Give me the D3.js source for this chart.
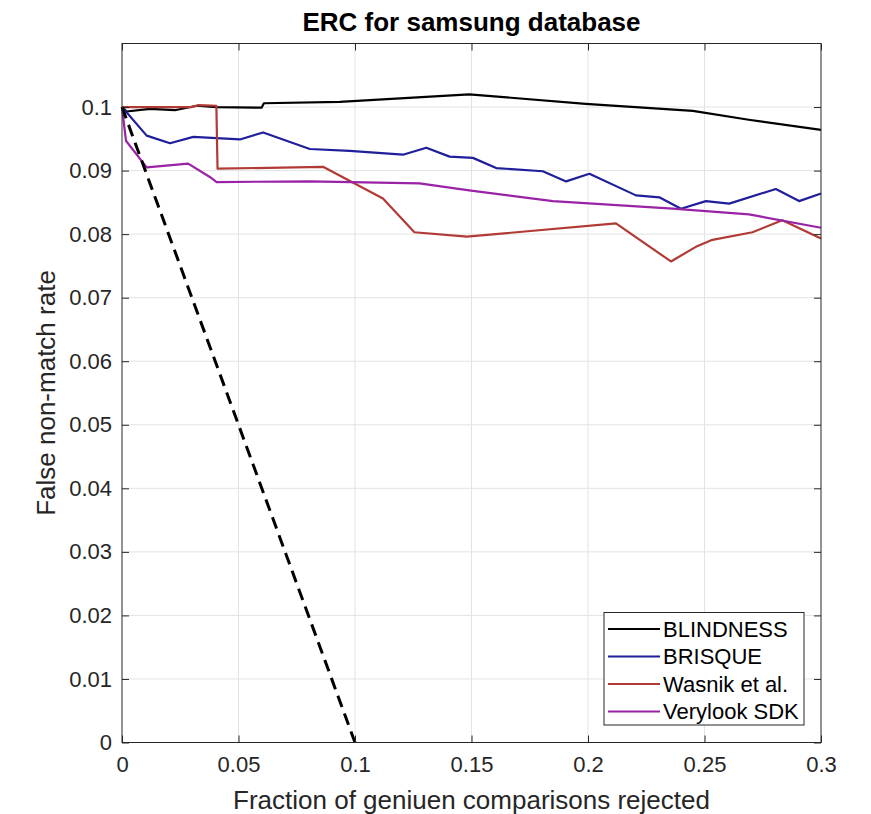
<!DOCTYPE html>
<html>
<head>
<meta charset="utf-8">
<script src="https://cdn.jsdelivr.net/npm/d3@7"></script>
<style>
  body { margin: 0; background: #fff; }
  svg { display: block; font-family: "Liberation Sans", Arial, sans-serif; }
</style>
</head>
<body>
<svg id="chart" width="871" height="814"></svg>
<script>
// ---- data ----
const seriesNames = ["BLINDNESS", "BRISQUE", "Wasnik et al.", "Verylook SDK"];
const blindness = [[0,0.1],[0.002,0.0993],[0.012,0.0997],[0.0227,0.0995],[0.032,0.1002],[0.0406,0.1],[0.0599,0.0999],[0.0609,0.1006],[0.0934,0.1008],[0.149,0.102],[0.199,0.1005],[0.245,0.0994],[0.269,0.098],[0.3,0.0964]];
const brisque = [[0,0.1],[0.0106,0.0955],[0.0206,0.0943],[0.0306,0.0953],[0.0506,0.0949],[0.0606,0.096],[0.0806,0.0934],[0.0977,0.0931],[0.1206,0.0925],[0.1306,0.0936],[0.1406,0.0922],[0.1506,0.092],[0.1606,0.0904],[0.1806,0.0899],[0.1906,0.0883],[0.2006,0.0895],[0.2206,0.0861],[0.2306,0.0858],[0.2399,0.084],[0.2506,0.0852],[0.2606,0.0848],[0.2806,0.0871],[0.2906,0.0852],[0.3,0.0864]];
const wasnik = [[0,0.1],[0.03,0.1],[0.033,0.1003],[0.0405,0.1002],[0.041,0.0903],[0.0863,0.0906],[0.112,0.0856],[0.1255,0.0803],[0.148,0.0796],[0.212,0.0817],[0.2356,0.0757],[0.2463,0.078],[0.2534,0.0791],[0.2706,0.0803],[0.2834,0.0822],[0.3,0.0793]];
const verylook = [[0,0.1],[0.0017,0.0947],[0.0106,0.0905],[0.0284,0.0911],[0.0377,0.089],[0.0406,0.0882],[0.0806,0.0883],[0.1277,0.088],[0.149,0.0869],[0.1849,0.0852],[0.2363,0.084],[0.2691,0.0831],[0.3,0.081]];
const dashedRef = [[0,0.1],[0.1,0]];
const xTicks = [0, 0.05, 0.1, 0.15, 0.2, 0.25, 0.3];
const yTicks = [0, 0.01, 0.02, 0.03, 0.04, 0.05, 0.06, 0.07, 0.08, 0.09, 0.1];
const colors = ["#000000", "#1f1f9c", "#b23a36", "#9a22a6"];

// ---- layout ----
const svg = d3.select("#chart");
const L = 122, R = 821, T = 43.5, B = 742.5;
const x = d3.scaleLinear().domain([0, 0.3]).range([L, R]);
const y = d3.scaleLinear().domain([0, 0.11]).range([B, T]);
const frame = "#262626";

svg.append("rect").attr("width", 871).attr("height", 814).attr("fill", "#fff");

// grid
const grid = svg.append("g");
grid.selectAll(".gx").data(xTicks.slice(1, -1)).enter().append("line")
  .attr("x1", d => x(d)).attr("x2", d => x(d)).attr("y1", T).attr("y2", B)
  .attr("stroke", "#e3e3e3").attr("stroke-width", 1);
grid.selectAll(".gy").data(yTicks.slice(1)).enter().append("line")
  .attr("y1", d => y(d)).attr("y2", d => y(d)).attr("x1", L).attr("x2", R)
  .attr("stroke", "#e3e3e3").attr("stroke-width", 1);

// lines
const line = d3.line().x(d => x(d[0])).y(d => y(d[1]));
const data = [blindness, brisque, wasnik, verylook];
data.forEach((s, i) => {
  svg.append("path").datum(s).attr("d", line)
    .attr("fill", "none").attr("stroke", colors[i]).attr("stroke-width", 2.2)
    .attr("stroke-linejoin", "round");
});
svg.append("path").datum(dashedRef).attr("d", line)
  .attr("fill", "none").attr("stroke", "#000").attr("stroke-width", 3)
  .attr("stroke-dasharray", "12,7");

// axes
const fmt = d => d === 0 ? "0" : String(+d.toFixed(3));
const axB = svg.append("g").attr("transform", `translate(0,${B})`)
  .call(d3.axisBottom(x).tickValues(xTicks).tickFormat(fmt).tickSizeInner(-7).tickSizeOuter(0).tickPadding(14));
const axT = svg.append("g").attr("transform", `translate(0,${T})`)
  .call(d3.axisTop(x).tickValues(xTicks).tickFormat("").tickSizeInner(-7).tickSizeOuter(0));
const axL = svg.append("g").attr("transform", `translate(${L},0)`)
  .call(d3.axisLeft(y).tickValues(yTicks).tickFormat(fmt).tickSizeInner(-7).tickSizeOuter(0).tickPadding(10));
const axR = svg.append("g").attr("transform", `translate(${R},0)`)
  .call(d3.axisRight(y).tickValues(yTicks).tickFormat("").tickSizeInner(-7).tickSizeOuter(0));
[axB, axT, axL, axR].forEach(a => {
  a.select(".domain").remove();
  a.selectAll("line").attr("stroke", frame);
  a.selectAll("text").attr("fill", frame).style("font-size", "22px")
    .style("font-family", "'Liberation Sans', Arial, sans-serif");
});
svg.append("rect").attr("x", L).attr("y", T).attr("width", R - L).attr("height", B - T)
  .attr("fill", "none").attr("stroke", frame).attr("stroke-width", 1);

// title & labels
svg.append("text").attr("x", (L + R) / 2).attr("y", 31).attr("text-anchor", "middle")
  .style("font-size", "26px").style("font-weight", "bold").attr("fill", "#000")
  .text("ERC for samsung database");
svg.append("text").attr("x", (L + R) / 2).attr("y", 809).attr("text-anchor", "middle")
  .style("font-size", "26px").attr("fill", frame)
  .text("Fraction of geniuen comparisons rejected");
svg.append("text").attr("transform", `translate(55,${(T + B) / 2}) rotate(-90)`)
  .attr("text-anchor", "middle").style("font-size", "26px").attr("fill", frame)
  .text("False non-match rate");

// legend
const lg = svg.append("g");
lg.append("rect").attr("x", 604).attr("y", 612.5).attr("width", 200).attr("height", 112.5)
  .attr("fill", "#fff").attr("stroke", frame).attr("stroke-width", 1);
seriesNames.forEach((n, i) => {
  const yy = 629 + i * 27.5;
  lg.append("line").attr("x1", 608).attr("x2", 660).attr("y1", yy).attr("y2", yy)
    .attr("stroke", colors[i]).attr("stroke-width", 2);
  lg.append("text").attr("x", 663).attr("y", yy).attr("dy", "0.36em")
    .style("font-size", "22px").attr("fill", "#000").text(n);
});
</script>
</body>
</html>
